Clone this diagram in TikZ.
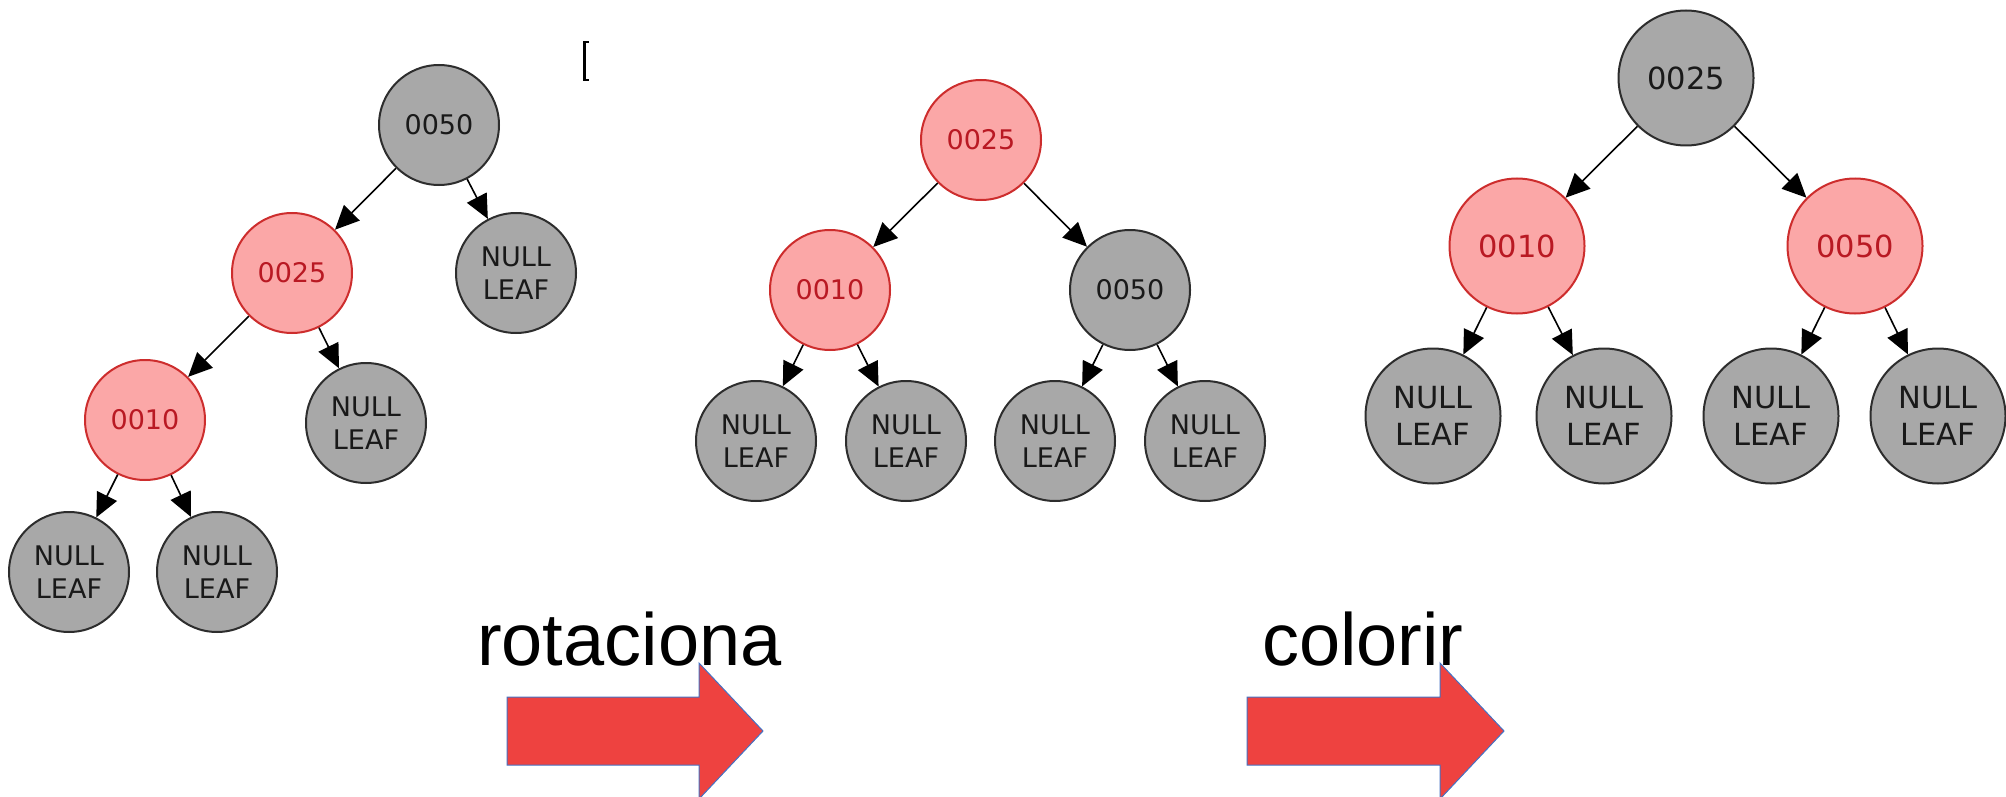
\documentclass[tikz,border=0pt]{standalone}
\usepackage{fontspec}
\setmainfont{DejaVu Sans}
\newfontfamily\labfont{Liberation Sans}
\usetikzlibrary{arrows.meta}
\definecolor{graynode}{RGB}{168,168,168}
\definecolor{gborder}{RGB}{45,45,45}
\definecolor{gtext}{RGB}{25,25,25}
\definecolor{rfill}{RGB}{251,167,167}
\definecolor{rborder}{RGB}{205,45,45}
\definecolor{rtext}{RGB}{185,25,35}
\definecolor{arrowred}{RGB}{238,66,64}
\definecolor{arrowedge}{RGB}{68,114,196}
\tikzset{
 gnode/.style={circle, draw=gborder, fill=graynode, line width=2pt, minimum size=120pt, inner sep=0pt, text=gtext, font=\fontsize{27}{33}\selectfont, align=center},
 rnode/.style={gnode, draw=rborder, fill=rfill, text=rtext},
 bignode/.style={minimum size=135pt, font=\fontsize{30.5}{37}\selectfont},
 edge/.style={-{Triangle[length=24pt,width=22pt]}, line width=1.6pt, draw=black, shorten >=0pt},
 blockarrow/.style={fill=arrowred, draw=arrowedge, line width=1pt},
 lab/.style={anchor=base west, inner sep=0pt, font=\labfont\fontsize{74}{80}\selectfont}
}
\begin{document}
\begin{tikzpicture}[x=1pt,y=-1pt]
\useasboundingbox (0,0) rectangle (2006,797);
% Tree 1
\node[gnode] (a50) at (439,125) {0050};
\node[rnode] (a25) at (292,273) {0025};
\node[gnode] (an1) at (516,273) {NULL\\LEAF};
\node[rnode] (a10) at (145,420) {0010};
\node[gnode] (an2) at (366,423) {NULL\\LEAF};
\node[gnode] (an3) at (69,572) {NULL\\LEAF};
\node[gnode] (an4) at (217,572) {NULL\\LEAF};
\draw[edge] (a50) -- (a25);
\draw[edge] (a50) -- (an1);
\draw[edge] (a25) -- (a10);
\draw[edge] (a25) -- (an2);
\draw[edge] (a10) -- (an3);
\draw[edge] (a10) -- (an4);
% Tree 2
\node[rnode] (b25) at (981,140) {0025};
\node[rnode] (b10) at (830,290) {0010};
\node[gnode] (b50) at (1130,290) {0050};
\node[gnode] (bn1) at (756,441) {NULL\\LEAF};
\node[gnode] (bn2) at (906,441) {NULL\\LEAF};
\node[gnode] (bn3) at (1055,441) {NULL\\LEAF};
\node[gnode] (bn4) at (1205,441) {NULL\\LEAF};
\draw[edge] (b25) -- (b10);
\draw[edge] (b25) -- (b50);
\draw[edge] (b10) -- (bn1);
\draw[edge] (b10) -- (bn2);
\draw[edge] (b50) -- (bn3);
\draw[edge] (b50) -- (bn4);
% Tree 3
\node[gnode,bignode] (c25) at (1686,78) {0025};
\node[rnode,bignode] (c10) at (1517,246) {0010};
\node[rnode,bignode] (c50) at (1855,246) {0050};
\node[gnode,bignode] (cn1) at (1433,416) {NULL\\LEAF};
\node[gnode,bignode] (cn2) at (1604,416) {NULL\\LEAF};
\node[gnode,bignode] (cn3) at (1771,416) {NULL\\LEAF};
\node[gnode,bignode] (cn4) at (1938,416) {NULL\\LEAF};
\draw[edge] (c25) -- (c10);
\draw[edge] (c25) -- (c50);
\draw[edge] (c10) -- (cn1);
\draw[edge] (c10) -- (cn2);
\draw[edge] (c50) -- (cn3);
\draw[edge] (c50) -- (cn4);
% small bracket mark
\draw[line width=2.5pt, black] (589,42) -- (584.5,42) -- (584.5,80) -- (589,80);
% labels
\node[lab] (rot) at (477,665) {rotaciona};
\node[lab] (col) at (1262,665) {colorir};
% block arrows
\draw[blockarrow] (507,697) -- (699,697) -- (699,663) -- (763,731) -- (699,799) -- (699,765) -- (507,765) -- cycle;
\draw[blockarrow] (1247,697) -- (1440,697) -- (1440,663) -- (1504,731) -- (1440,799) -- (1440,765) -- (1247,765) -- cycle;
\end{tikzpicture}
\end{document}
